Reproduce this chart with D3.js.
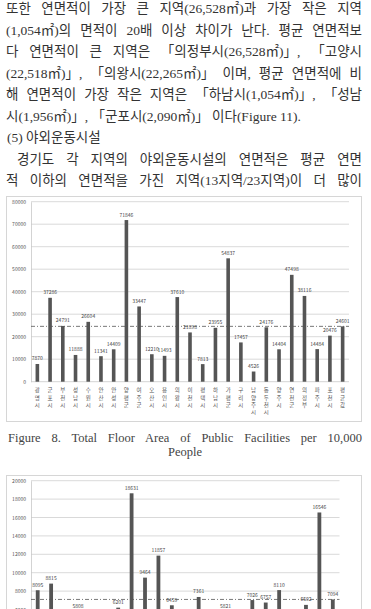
<!DOCTYPE html>
<html><head><meta charset="utf-8">
<script src="https://cdn.jsdelivr.net/npm/d3@7"></script>
<style>
body{margin:0;width:371px;height:609px;overflow:hidden;background:#fff}
svg{position:absolute;left:0;top:0}
</style></head><body>
<svg id="c" width="371" height="609"></svg>
<script>
// ---------- DATA ----------
const bodyLines = [
  "또한 연면적이 가장 큰 지역(26,528㎡)과 가장 작은 지역",
  "(1,054㎡)의 면적이 20배 이상 차이가 난다. 평균 연면적보",
  "다 연면적이 큰 지역은 「의정부시(26,528㎡)」, 「고양시",
  "(22,518㎡)」, 「의왕시(22,265㎡)」 이며, 평균 연면적에 비",
  "해 연면적이 가장 작은 지역은 「하남시(1,054㎡)」, 「성남",
  "시(1,956㎡)」, 「군포시(2,090㎡)」 이다(Figure 11).",
  "(5) 야외운동시설",
  "경기도 각 지역의 야외운동시설의 연면적은 평균 연면",
  "적 이하의 연면적을 가진 지역(13지역/23지역)이 더 많이"
];
const bodyJustify = [true, true, true, true, true, false, false, true, true];
const bodyIndent = [0, 0, 0, 0, 0, 0, 1, 11, 0];

const categories1 = ["광명시","군포시","부천시","성남시","수원시","안산시","안성시","양평군","여주군","오산시","용인시","의왕시","이천시","평택시","하남시","가평군","구리시","남양주시","동두천시","양주시","연천군","의정부","파주시","포천시","평균값"];
const values1 = [7870,37286,24791,11888,26604,11341,14409,71846,33447,12210,11493,37610,21898,7813,23955,54837,17457,4526,24176,14404,47498,38116,14484,20476,24601];
const average1 = 24601;
const yTicks1 = [0,10000,20000,30000,40000,50000,60000,70000,80000];

const caption1 = "Figure 8. Total Floor Area of Public Facilities per 10,000";
const caption2 = "People";

const categories2 = ["광명시","군포시","부천시","성남시","수원시","안산시","안성시","양평군","여주군","오산시","용인시","의왕시","이천시","평택시","하남시","가평군","구리시","남양주시","동두천시","양주시","의정부","파주시","평균값"];
const values2 = [8095,8815,3200,5808,4100,2900,6201,18631,9464,11857,6459,4700,7361,3900,5821,2400,7026,6757,8110,4500,6502,16546,7094];
const average2 = 7094;
const yTicks2 = [0,2000,4000,6000,8000,10000,12000,14000,16000,18000,20000];

// ---------- DRAW ----------
const H = 609;
const svg = d3.select("#c");
const textFont = '"Liberation Serif","Noto Sans CJK KR",serif';
const smallFont = '"Noto Sans CJK KR","Noto Sans",sans-serif';

// body text
const lineY0 = 8, lineGap = 21.5, textLeft = 6, textRight = 362;
bodyLines.forEach((s, i) => {
  const x = textLeft + bodyIndent[i];
  const t = svg.append("text")
    .attr("x", x).attr("y", lineY0 + i * lineGap + 5)
    .attr("font-family", textFont).attr("font-size", 13.5)
    .attr("fill", "#333").text(s);
  if (bodyJustify[i]) {
    const w = t.node().getComputedTextLength();
    const spaces = (s.match(/ /g) || []).length;
    const extra = (textRight - x) - w;
    if (spaces > 0) t.attr("word-spacing", extra / spaces);
  }
});

function barChart(cfg) {
  const g = svg.append("g");
  // box
  g.append("rect").attr("x", cfg.box[0]).attr("y", cfg.box[1])
    .attr("width", cfg.box[2] - cfg.box[0]).attr("height", cfg.box[3] - cfg.box[1])
    .attr("fill", "#fff").attr("stroke", "#d6d6d6").attr("stroke-width", 1);
  const x = d3.scaleBand().domain(cfg.cats).range([cfg.left, cfg.right]);
  const y = d3.scaleLinear().domain([0, cfg.max]).range([cfg.bottom, cfg.top]);
  const visible = yy => yy < H + 4;
  // gridlines
  g.selectAll(".grid").data(cfg.ticks.filter(d => d > 0)).join("line")
    .attr("x1", cfg.left).attr("x2", cfg.right)
    .attr("y1", d => y(d)).attr("y2", d => y(d))
    .attr("stroke", "#cfcfcf").attr("stroke-width", 0.8);
  // axes
  const ax = g.append("g").attr("transform", `translate(${cfg.left},0)`)
    .call(d3.axisLeft(y).tickValues(cfg.ticks.filter(d => visible(y(d)))).tickSize(0).tickPadding(5).tickFormat(d3.format("d")));
  ax.select(".domain").attr("stroke", "#c8c8c8").attr("stroke-width", 0.8);
  ax.selectAll("text").attr("font-family", smallFont).attr("font-size", 5).attr("fill", "#555");
  g.append("line").attr("x1", cfg.left).attr("x2", cfg.right)
    .attr("y1", y(0)).attr("y2", y(0)).attr("stroke", "#c8c8c8").attr("stroke-width", 0.8);
  // bars
  const bw = cfg.barW;
  g.selectAll(".bar").data(cfg.vals).join("rect")
    .attr("x", (d, i) => x(cfg.cats[i]) + x.bandwidth() / 2 - bw / 2)
    .attr("y", d => y(d)).attr("width", bw).attr("height", d => y(0) - y(d))
    .attr("fill", "#555");
  // value labels (only those that can appear inside the page)
  const labelled = cfg.vals.map((v, i) => ({ v, c: cfg.cats[i] })).filter(d => visible(y(d.v) - 3.5));
  g.selectAll(".vl").data(labelled).join("text")
    .attr("x", d => x(d.c) + x.bandwidth() / 2)
    .attr("y", d => y(d.v) - 3.5).attr("text-anchor", "middle")
    .attr("font-family", smallFont).attr("font-size", 5).attr("fill", "#444")
    .text(d => d.v);
  // average dashed line
  g.append("line").attr("x1", cfg.left).attr("x2", cfg.right)
    .attr("y1", y(cfg.avg)).attr("y2", y(cfg.avg))
    .attr("stroke", "#555").attr("stroke-width", 0.8).attr("stroke-dasharray", "4,2,1,2");
  // category labels (vertical characters), only when inside the page
  if (visible(y(0) + 10.5)) {
    cfg.cats.forEach(c => {
      const t = g.append("text").attr("text-anchor", "middle")
        .attr("font-family", smallFont).attr("font-size", 5.5).attr("fill", "#555");
      [...c].forEach((ch, k) => {
        t.append("tspan").attr("x", x(c) + x.bandwidth() / 2)
          .attr("y", y(0) + 10.5 + k * 7.3).text(ch);
      });
    });
  }
}

barChart({ box: [6.5, 196.5, 361.5, 421.5], cats: categories1, vals: values1, avg: average1,
  ticks: yTicks1, max: 80000, left: 31, right: 349, top: 201.7, bottom: 381.7, barW: 3.6 });

// caption
const cap = svg.append("text").attr("x", 8).attr("y", 442)
  .attr("font-family", textFont).attr("font-size", 12.5).attr("fill", "#444").text(caption1);
{
  const w = cap.node().getComputedTextLength();
  const sp = (caption1.match(/ /g) || []).length;
  cap.attr("word-spacing", (354 - w) / sp);
}
svg.append("text").attr("x", 185).attr("y", 456).attr("text-anchor", "middle")
  .attr("font-family", textFont).attr("font-size", 12.5).attr("fill", "#444").text(caption2);

barChart({ box: [6.5, 475.5, 361.5, 720], cats: categories2, vals: values2, avg: average2,
  ticks: yTicks2, max: 20000, left: 31, right: 339.5, top: 480.7, bottom: 664.7, barW: 3.8 });
</script>
</body></html>
